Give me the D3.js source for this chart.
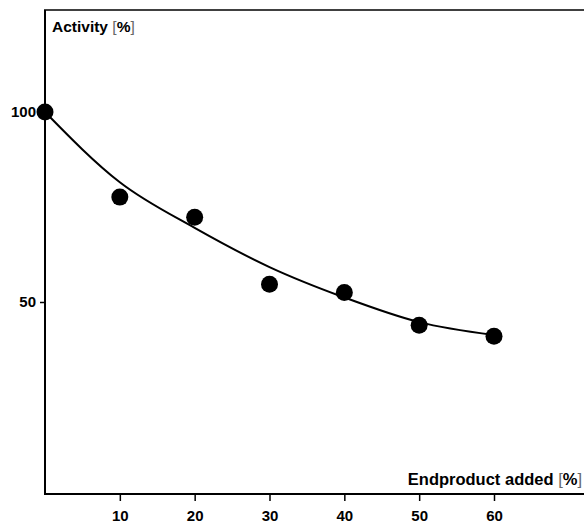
<!DOCTYPE html>
<html><head><meta charset="utf-8">
<script src="https://cdn.jsdelivr.net/npm/d3@7"></script>
<style>
html,body{margin:0;padding:0;background:#fff;}
svg{display:block;}
text{font-family:"Liberation Sans",Arial,Helvetica,sans-serif;font-weight:bold;fill:#000;}
</style></head>
<body>
<svg id="chart" width="584" height="525"></svg>
<script>
// Data
const pointX = [0, 10, 20, 30, 40, 50, 60];
const pointY = [100, 77.6, 72.3, 54.7, 52.5, 43.9, 41.0];
const curveX = [0, 10, 20, 30, 40, 50, 60];
const curveY = [100, 81.5, 69.5, 59.2, 51.2, 44.7, 41.3];
const xTicks = [10, 20, 30, 40, 50, 60];
const yTicks = [50, 100];
const yLabel = "Activity ";
const xLabel = "Endproduct added ";
const unitParts = ["[", "%", "]"];

const svg = d3.select("#chart");
const x = d3.scaleLinear().domain([0, 60]).range([45, 494]);
const y = d3.scaleLinear().domain([0, 100]).range([492, 112]);
const xRight = 584, yTop = 10, yBottom = 494;

// frame lines
svg.append("line").attr("x1", x(0)).attr("x2", x(0)).attr("y1", yTop).attr("y2", yBottom)
  .attr("stroke", "#000").attr("stroke-width", 2);
svg.append("line").attr("x1", x(0)-1).attr("x2", xRight).attr("y1", yBottom).attr("y2", yBottom)
  .attr("stroke", "#000").attr("stroke-width", 2);
svg.append("line").attr("x1", x(0)-1).attr("x2", xRight).attr("y1", yTop).attr("y2", yTop)
  .attr("stroke", "#000").attr("stroke-width", 1.5);

// x axis
const gx = svg.append("g").attr("transform", `translate(0,${yBottom})`)
  .call(d3.axisBottom(x).tickValues(xTicks).tickSize(7).tickPadding(9).tickFormat(d3.format("d")));
gx.select(".domain").remove();
gx.selectAll(".tick line").attr("stroke", "#000").attr("stroke-width", 1.5);
gx.selectAll(".tick text").style("font-size", "15px").style("font-family", "'Liberation Sans',Arial,sans-serif").style("font-weight", "bold");

// y axis
const gy = svg.append("g").attr("transform", `translate(${x(0)},0)`)
  .call(d3.axisLeft(y).tickValues(yTicks).tickSize(5).tickPadding(4).tickFormat(d3.format("d")));
gy.select(".domain").remove();
gy.selectAll(".tick line").attr("stroke", "#000").attr("stroke-width", 1.5);
gy.selectAll(".tick text").style("font-size", "15px").style("font-family", "'Liberation Sans',Arial,sans-serif").style("font-weight", "bold");

function addUnit(t) {
  t.append("tspan").text(unitParts[0]).style("font-weight", "normal").style("fill", "#666");
  t.append("tspan").text(unitParts[1]);
  t.append("tspan").text(unitParts[2]).style("font-weight", "normal").style("fill", "#666");
}

// axis titles
const yt = svg.append("text").attr("x", 52).attr("y", 32).style("font-size", "15.5px");
yt.append("tspan").text(yLabel);
addUnit(yt);
const xt = svg.append("text").attr("x", 582).attr("y", 485).attr("text-anchor", "end").style("font-size", "16.5px");
xt.append("tspan").text(xLabel);
addUnit(xt);

// fitted curve
const curveData = curveX.map((v, i) => [v, curveY[i]]);
svg.append("path").datum(curveData)
  .attr("d", d3.line().x(d => x(d[0])).y(d => y(d[1])).curve(d3.curveMonotoneX))
  .attr("fill", "none").attr("stroke", "#000").attr("stroke-width", 2);

// points
svg.selectAll("circle.pt").data(pointX.map((v, i) => [v, pointY[i]])).enter()
  .append("circle").attr("class", "pt")
  .attr("cx", d => x(d[0])).attr("cy", d => y(d[1])).attr("r", 8.5).attr("fill", "#000");
</script>
</body></html>
